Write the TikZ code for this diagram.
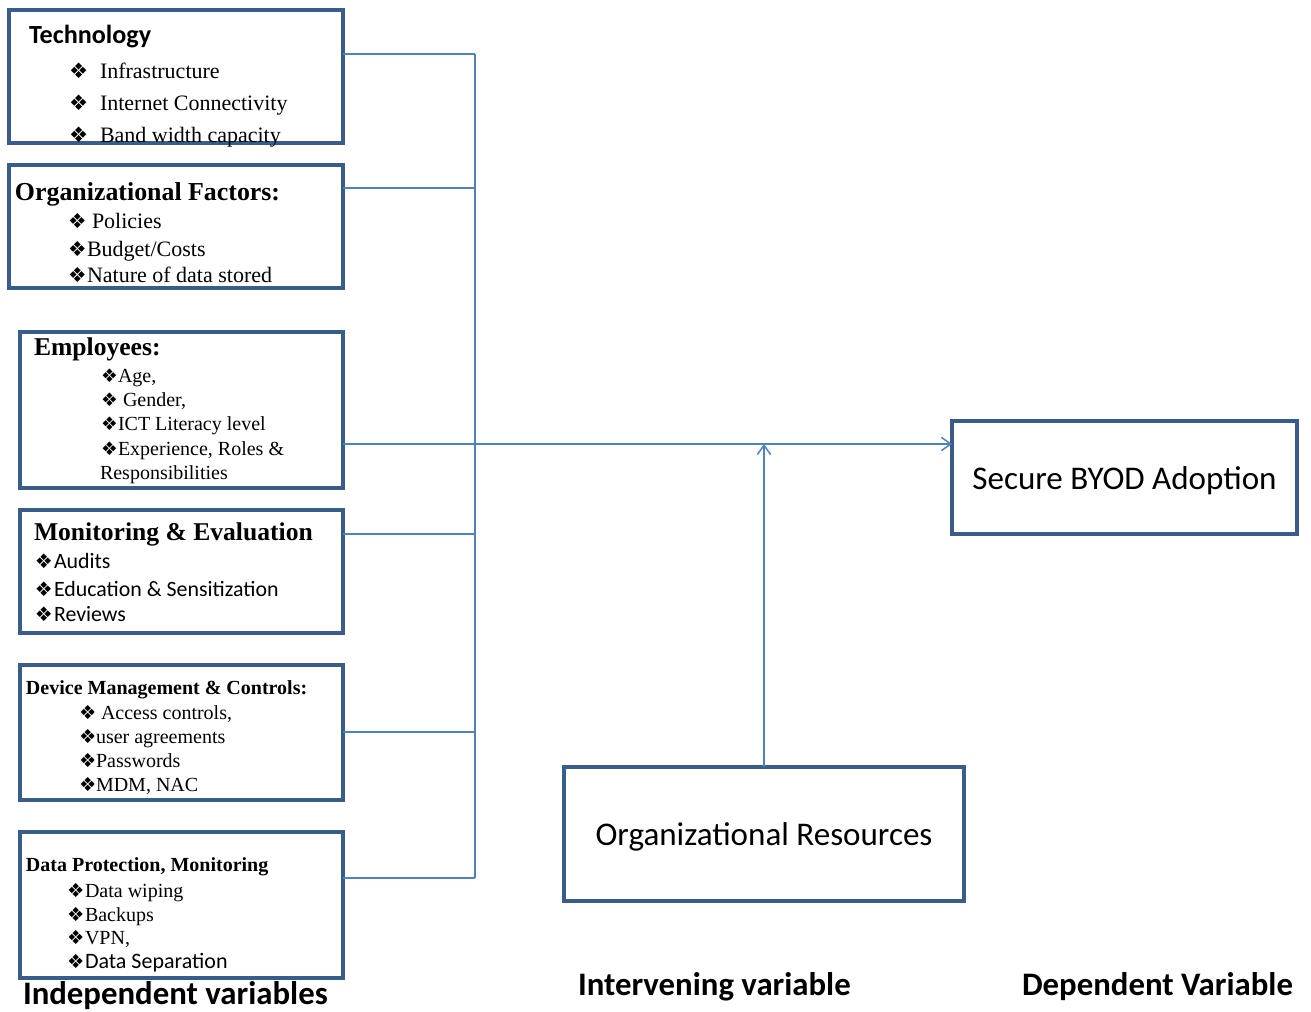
\documentclass[tikz,border=0pt]{standalone}
\usepackage{fontspec}
\setmainfont{Liberation Serif}
\newfontfamily\carl{Carlito}
\newfontfamily\djv{DejaVu Sans}
\usetikzlibrary{arrows.meta,fit}

\definecolor{boxblue}{HTML}{385D8A}
\definecolor{linkblue}{HTML}{4F81BD}

\tikzset{
  box/.style={draw=boxblue, line width=2.6pt, inner sep=0pt, outer sep=0pt},
  link/.style={draw=linkblue, line width=1.1pt},
  arr/.style={link, -{Straight Barb[length=7pt,width=10pt,line width=1.1pt]}},
  txt/.style={anchor=base west, inner sep=0pt, outer sep=0pt},
}

% bullet line: name, bullet x, text x, baseline y, bullet size, text
\newcommand\itm[6]{%
  \node[txt, font=\djv\fontsize{#5}{#5}\selectfont] (#1b) at (#2,#4) {❖};
  \node[txt] (#1) at (#3,#4) {#6};}

\begin{document}
\begin{tikzpicture}[x=0.75pt, y=-0.75pt]
\useasboundingbox (0,0) rectangle (1311,1012);

% boxes
\node[box, fit={(9,10) (343,143)}] (tech) {};
\node[box, fit={(9,165) (343,288)}] (org) {};
\node[box, fit={(20,332) (343,488)}] (emp) {};
\node[box, fit={(20,510) (343,633)}] (mon) {};
\node[box, fit={(20,665) (343,800)}] (dev) {};
\node[box, fit={(20,832) (343,978)}] (dat) {};
\node[box, fit={(952,421) (1297,534)}] (byod) {};
\node[box, fit={(564,767) (964,901)}] (res) {};

% bus coordinates
\coordinate (b1) at (475,54);
\coordinate (b2) at (475,188);
\coordinate (bj) at (475,444);
\coordinate (b4) at (475,534);
\coordinate (b5) at (475,732);
\coordinate (b6) at (475,878);

\draw[link] (tech.east |- b1) -- (b1);
\draw[link] (org.east |- b2) -- (b2);
\draw[link] (emp.east |- bj) -- (bj);
\draw[link] (mon.east |- b4) -- (b4);
\draw[link] (dev.east |- b5) -- (b5);
\draw[link] (dat.east |- b6) -- (b6);
\draw[link] (b1) -- (b6);
\draw[arr] (bj) -- (byod.west |- bj);
\draw[arr] (res.north) -- (res.north |- bj);

% Technology
\node[txt, font=\carl\bfseries\fontsize{19.6}{22}\selectfont] (techT) at (29,44) {Technology};
\begin{scope}[font=\fontsize{16.5}{19}\selectfont]
\itm{t1}{69}{100}{79}{16}{Infrastructure}
\itm{t2}{69}{100}{111}{16}{Internet Connectivity}
\itm{t3}{69}{100}{143}{16}{Band width capacity}
\end{scope}

% Organizational factors
\node[txt, font=\bfseries\fontsize{19.4}{22}\selectfont] (orgT) at (15,201) {Organizational Factors:};
\begin{scope}[font=\fontsize{16.5}{19}\selectfont]
\itm{o1}{68}{92}{229}{15.5}{Policies}
\itm{o2}{68}{87}{257}{15.5}{Budget/Costs}
\itm{o3}{68}{87}{283}{15.5}{Nature of data stored}
\end{scope}

% Employees
\node[txt, font=\bfseries\fontsize{19.2}{22}\selectfont] (empT) at (34,356) {Employees:};
\begin{scope}[font=\fontsize{15}{17}\selectfont]
\itm{e1}{101}{118}{383}{14}{Age,}
\itm{e2}{101}{123}{407}{14}{Gender,}
\itm{e3}{101}{118}{431}{14}{ICT Literacy level}
\itm{e4}{101}{118}{456}{14}{Experience, Roles \&}
\node[txt] (e5) at (100,480) {Responsibilities};
\end{scope}

% Monitoring & Evaluation
\node[txt, font=\bfseries\fontsize{19.2}{22}\selectfont] (monT) at (34,541) {Monitoring \& Evaluation};
\begin{scope}[font=\carl\fontsize{16.4}{19}\selectfont]
\itm{m1}{35}{54}{569}{15}{Audits}
\itm{m2}{35}{54}{596}{15}{Education \& Sensitization}
\itm{m3}{35}{54}{621}{15}{Reviews}
\end{scope}

% Device management
\node[txt, font=\bfseries\fontsize{15}{18}\selectfont] (devT) at (26,694) {Device Management \& Controls:};
\begin{scope}[font=\fontsize{15}{18}\selectfont]
\itm{d1}{79}{101}{719}{14.5}{Access controls,}
\itm{d2}{79}{96}{743}{14.5}{user agreements}
\itm{d3}{79}{96}{767}{14.5}{Passwords}
\itm{d4}{79}{96}{791}{14.5}{MDM, NAC}
\end{scope}

% Data protection
\node[txt, font=\bfseries\fontsize{15}{18}\selectfont] (datT) at (26,871) {Data Protection, Monitoring};
\begin{scope}[font=\fontsize{15}{18}\selectfont]
\itm{p1}{67}{85}{897}{14.5}{Data wiping}
\itm{p2}{67}{85}{921}{14.5}{Backups}
\itm{p3}{67}{85}{944}{14.5}{VPN,}
\end{scope}
\begin{scope}[font=\carl\fontsize{16.5}{19}\selectfont]
\itm{p4}{67}{85}{968}{14.5}{Data Separation}
\end{scope}

% right-hand boxes
\node[font=\carl\fontsize{24.8}{28}\selectfont] (byodT) at ([yshift=-2.5pt]byod.center) {Secure BYOD Adoption};
\node[font=\carl\fontsize{24.8}{28}\selectfont] (resT) at ([yshift=-2.5pt]res.center) {Organizational Resources};

% variable labels
\begin{scope}[font=\carl\bfseries\fontsize{24.6}{28}\selectfont]
\node[txt] (lInd) at (23,1004) {Independent variables};
\node[txt] (lInt) at (578,995) {Intervening variable};
\node[txt] (lDep) at (1022,995) {Dependent Variable};
\end{scope}
\end{tikzpicture}
\end{document}
